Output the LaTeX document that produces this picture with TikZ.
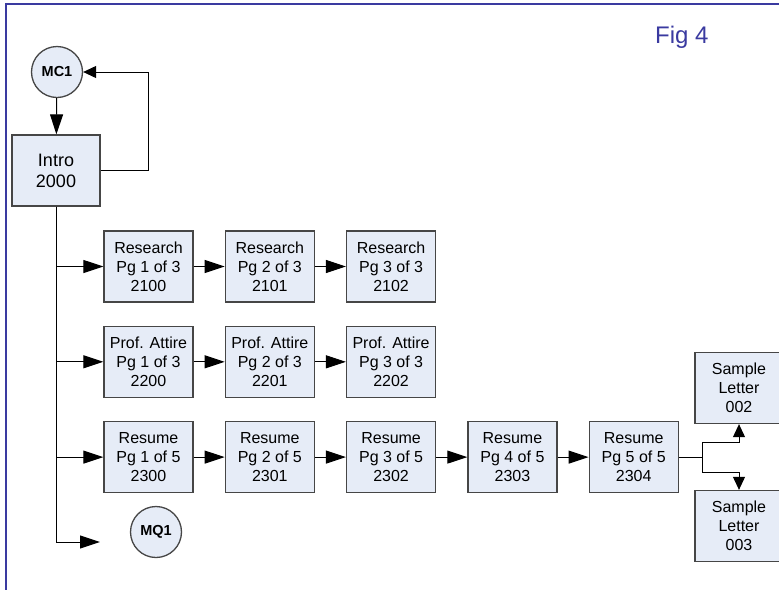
\documentclass[tikz,border=0pt]{standalone}
\usepackage{fontspec}
\setmainfont{Liberation Sans}
\usepackage{xcolor}
\usetikzlibrary{positioning,arrows.meta,calc}

\definecolor{figblue}{RGB}{58,58,160}
\definecolor{boxfill}{RGB}{230,236,247}
\definecolor{boxline}{RGB}{70,70,70}

\begin{document}
\begin{tikzpicture}[
  x=1pt, y=-1pt,
  node distance=23pt and 31pt,
  page/.style={draw=boxline, line width=1.3pt, fill=boxfill, rectangle, align=center,
               minimum width=89pt, minimum height=71pt, inner sep=0pt,
               font=\fontsize{16}{19}\selectfont},
  intro/.style={page, minimum width=88pt, font=\fontsize{18}{21}\selectfont},
  conn/.style={draw=boxline, line width=1.3pt, fill=boxfill, circle,
               minimum size=51pt, inner sep=0pt, font=\fontsize{14.5}{16}\selectfont\bfseries},
  line/.style={black, line width=1pt},
  arr/.style={line, -{Triangle[length=20pt, width=13pt]}},
  arrs/.style={line, -{Triangle[length=13pt, width=12pt]}},
]
\clip (0,0) rectangle (779,590);

% --- Frame and title ---
\draw[figblue, line width=2pt] (779,4) -- (6,4) -- (6,590);
\node[figblue, font=\fontsize{24}{26}\selectfont, anchor=base west, inner sep=0pt] (title) at (655,43) {Fig 4};

% --- Entry ---
\node[conn] (mc1) at (57,72) {MC1};
\node[intro] (intro) at (56,170.5) {Intro\\2000};

% --- Row 1: Research ---
\node[page] (r1a) at (148.5,266.5) {Research\\Pg 1 of 3\\2100};
\node[page, right=of r1a] (r1b) {Research\\Pg 2 of 3\\2101};
\node[page, right=of r1b] (r1c) {Research\\Pg 3 of 3\\2102};

% --- Row 2: Prof. Attire ---
\node[page, below=of r1a] (r2a) {Prof. Attire\\Pg 1 of 3\\2200};
\node[page, right=of r2a] (r2b) {Prof. Attire\\Pg 2 of 3\\2201};
\node[page, right=of r2b] (r2c) {Prof. Attire\\Pg 3 of 3\\2202};

% --- Row 3: Resume ---
\node[page, below=of r2a] (r3a) {Resume\\Pg 1 of 5\\2300};
\node[page, right=of r3a] (r3b) {Resume\\Pg 2 of 5\\2301};
\node[page, right=of r3b] (r3c) {Resume\\Pg 3 of 5\\2302};
\node[page, right=of r3c] (r3d) {Resume\\Pg 4 of 5\\2303};
\node[page, right=of r3d] (r3e) {Resume\\Pg 5 of 5\\2304};

% --- Sample letters ---
\node[page, minimum width=88pt] (sl1) at (739,388) {Sample\\Letter\\002};
\node[page, minimum width=88pt] (sl2) at (739,526) {Sample\\Letter\\003};

% --- Exit ---
\node[conn] (mq1) at (156,532) {MQ1};
\coordinate (mqin) at (100,542);

% --- Edges ---
\draw[arr] (mc1) -- (intro);
\draw[arrs] (intro.east) -- ++(48,0) |- (mc1.east);

\draw[arr] (intro.south) |- (r1a.west);
\draw[arr] (intro.south) |- (r2a.west);
\draw[arr] (intro.south) |- (r3a.west);
\draw[arr] (intro.south) |- (mqin);

\draw[arr] (r1a) -- (r1b);
\draw[arr] (r1b) -- (r1c);
\draw[arr] (r2a) -- (r2b);
\draw[arr] (r2b) -- (r2c);
\draw[arr] (r3a) -- (r3b);
\draw[arr] (r3b) -- (r3c);
\draw[arr] (r3c) -- (r3d);
\draw[arr] (r3d) -- (r3e);

\draw[arrs] (r3e.east) -- ++(24,0) coordinate (split) |- ([yshift=-18pt]sl1.south) -- (sl1.south);
\draw[arrs] (split) |- ([yshift=17pt]sl2.north) -- (sl2.north);

\end{tikzpicture}
\end{document}
